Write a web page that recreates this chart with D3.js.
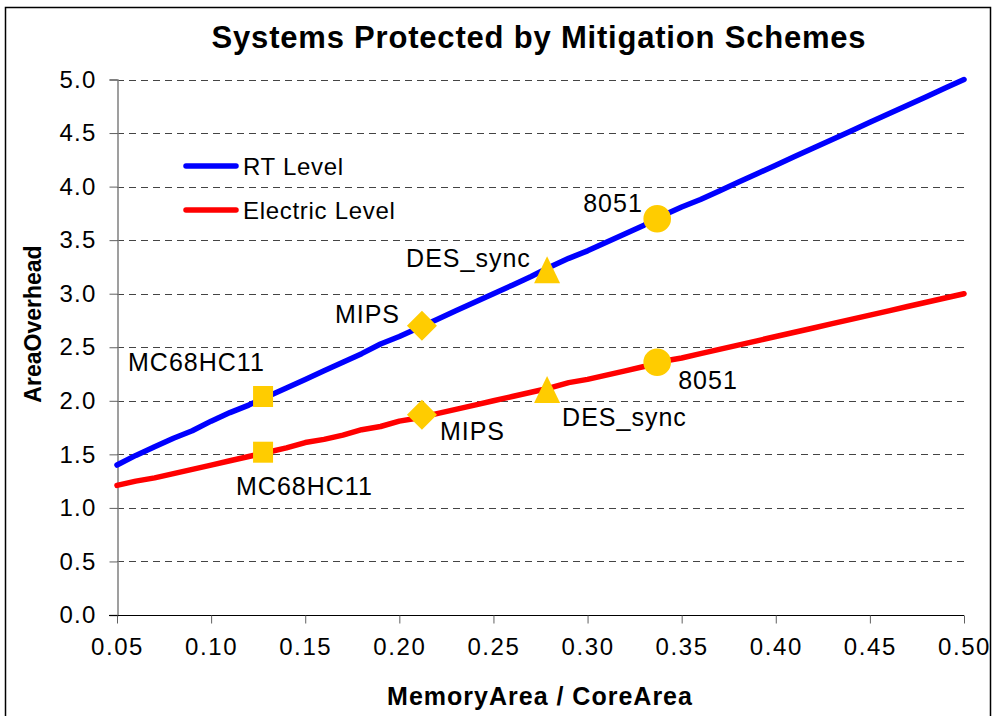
<!DOCTYPE html>
<html>
<head>
<meta charset="utf-8">
<script src="https://cdn.jsdelivr.net/npm/d3@7"></script>
<style>
  body { margin: 0; background: #fff; }
  svg { display: block; font-family: Arial, "Liberation Sans", sans-serif; }
</style>
</head>
<body>
<svg id="chart" width="994" height="716"></svg>
<script>
// ---- data ----
const xValues = [0.05,0.06,0.07,0.08,0.09,0.10,0.11,0.12,0.13,0.14,0.15,0.16,0.17,0.18,0.19,0.20,0.21,0.22,0.23,0.24,0.25,0.26,0.27,0.28,0.29,0.30,0.31,0.32,0.33,0.34,0.35,0.36,0.37,0.38,0.39,0.40,0.41,0.42,0.43,0.44,0.45,0.46,0.47,0.48,0.49,0.50];
const rtLevel = [1.40,1.49,1.57,1.65,1.72,1.81,1.89,1.96,2.04,2.12,2.20,2.28,2.36,2.44,2.53,2.60,2.68,2.76,2.84,2.92,3.00,3.08,3.16,3.25,3.33,3.40,3.48,3.56,3.64,3.73,3.81,3.88,3.96,4.04,4.12,4.20,4.28,4.36,4.44,4.52,4.60,4.68,4.76,4.84,4.92,5.00];
const electricLevel = [1.21,1.25,1.28,1.32,1.36,1.40,1.44,1.48,1.52,1.56,1.61,1.64,1.68,1.73,1.76,1.81,1.84,1.88,1.92,1.96,2.00,2.04,2.08,2.12,2.17,2.20,2.24,2.28,2.32,2.37,2.40,2.44,2.48,2.52,2.56,2.60,2.64,2.68,2.72,2.76,2.80,2.84,2.88,2.92,2.96,3.00];
const systems = ["MC68HC11","MIPS","DES_sync","8051"];
const systemX = [0.1276,0.212,0.2785,0.337];
const systemRT = [2.04,2.70,3.22,3.70];
const systemElectric = [1.52,1.87,2.10,2.36];
const seriesNames = ["RT Level","Electric Level"];
const xTicks = [0.05,0.10,0.15,0.20,0.25,0.30,0.35,0.40,0.45,0.50];
const yTicks = [0.0,0.5,1.0,1.5,2.0,2.5,3.0,3.5,4.0,4.5,5.0];
const titleText = "Systems Protected by Mitigation Schemes";
const xTitle = "MemoryArea / CoreArea";
const yTitle = "AreaOverhead";

// ---- layout ----
const svg = d3.select("#chart");
const L = 117, R = 964, T = 79.5, B = 615;
const x = d3.scaleLinear().domain([0.05, 0.50]).range([L, R]);
const y = d3.scaleLinear().domain([0, 5]).range([B, T]);
const blue = "#0000FF", red = "#FF0000", gold = "#FFCC00";
const FF = "Arial, 'Liberation Sans', sans-serif";

// outer border
svg.append("rect").attr("x", 5.5).attr("y", 7.5).attr("width", 985).attr("height", 730)
  .attr("fill", "#fff").attr("stroke", "#000").attr("stroke-width", 1.5);

// title
svg.append("text").attr("x", 539).attr("y", 48).attr("text-anchor", "middle")
  .attr("font-size", 31).attr("font-weight", "bold").attr("letter-spacing", 0.8).text(titleText);

// gridlines
svg.append("g").selectAll("line").data(yTicks.filter(d => d > 0)).join("line")
  .attr("x1", L).attr("x2", R)
  .attr("y1", d => Math.round(y(d)) + 0.5).attr("y2", d => Math.round(y(d)) + 0.5)
  .attr("stroke", "#444").attr("stroke-width", 1).attr("stroke-dasharray", "7,5");

// y axis
const yAxis = d3.axisLeft(y).tickValues(yTicks).tickFormat(d3.format(".1f")).tickSize(8).tickPadding(13);
const gy = svg.append("g").attr("transform", `translate(${L + 0.5},0)`).call(yAxis);
gy.select(".domain").attr("stroke", "#808080").attr("stroke-width", 1.5);
gy.selectAll(".tick line").attr("stroke", "#606060");
gy.selectAll(".tick text").attr("font-size", 24).attr("letter-spacing", 1.2).attr("fill", "#000")
  .attr("font-family", FF);

// x axis
const xAxis = d3.axisBottom(x).tickValues(xTicks).tickFormat(d3.format(".2f")).tickSize(8).tickPadding(14);
const gx = svg.append("g").attr("transform", `translate(0,${B + 0.5})`).call(xAxis);
gx.select(".domain").attr("stroke", "#000").attr("stroke-width", 1.2)
  .attr("d", `M${L - 8},0H${R}`);
gx.selectAll(".tick line").attr("stroke", "#606060");
gx.selectAll(".tick text").attr("font-size", 24).attr("letter-spacing", 1.6).attr("fill", "#000")
  .attr("font-family", FF);

// axis titles
svg.append("text").attr("x", 540).attr("y", 705).attr("text-anchor", "middle")
  .attr("font-size", 25).attr("font-weight", "bold").attr("letter-spacing", 1).text(xTitle);
svg.append("text").attr("transform", "translate(41,324) rotate(-90)").attr("text-anchor", "middle")
  .attr("font-size", 23).attr("font-weight", "bold").text(yTitle);

// lines
const line = d3.line().x(d => x(d[0])).y(d => y(d[1]));
const seriesData = [rtLevel, electricLevel];
const colors = [blue, red];
seriesData.forEach((vals, i) => {
  svg.append("path").datum(xValues.map((xv, j) => [xv, vals[j]]))
    .attr("d", line).attr("fill", "none").attr("stroke", colors[i])
    .attr("stroke-width", 5.5).attr("stroke-linecap", "round").attr("stroke-linejoin", "round");
});

// legend
const legY = [166, 210];
seriesNames.forEach((name, i) => {
  svg.append("line").attr("x1", 186).attr("x2", 236).attr("y1", legY[i]).attr("y2", legY[i])
    .attr("stroke", colors[i]).attr("stroke-width", 5.5).attr("stroke-linecap", "round");
  svg.append("text").attr("x", 243).attr("y", legY[i] + 9).attr("font-size", 24)
    .attr("letter-spacing", 0.7).text(name);
});

// markers
function markerPath(kind) {
  if (kind === 0) return "M-10,-10.5H10V10.5H-10Z";
  if (kind === 1) return "M0,-15L15,0L0,15L-15,0Z";
  if (kind === 2) return "M0,-14L13,13H-13Z";
  return d3.symbol(d3.symbolCircle, 600)();
}
[systemRT, systemElectric].forEach(vals => {
  systems.forEach((s, i) => {
    svg.append("path").attr("d", markerPath(i))
      .attr("transform", `translate(${x(systemX[i])},${y(vals[i])})`)
      .attr("fill", gold);
  });
});

// data labels (offsets relative to marker positions)
const rtLabelOff = [[-135, -26], [-87, -3], [-141, -3], [-74, -7]];
const elLabelOff = [[-27, 43], [18, 25], [15, 36], [21, 27]];
systems.forEach((s, i) => {
  svg.append("text").attr("x", x(systemX[i]) + rtLabelOff[i][0]).attr("y", y(systemRT[i]) + rtLabelOff[i][1])
    .attr("font-size", 25).attr("letter-spacing", 1).text(s);
  svg.append("text").attr("x", x(systemX[i]) + elLabelOff[i][0]).attr("y", y(systemElectric[i]) + elLabelOff[i][1])
    .attr("font-size", 25).attr("letter-spacing", 1).text(s);
});
</script>
</body>
</html>
